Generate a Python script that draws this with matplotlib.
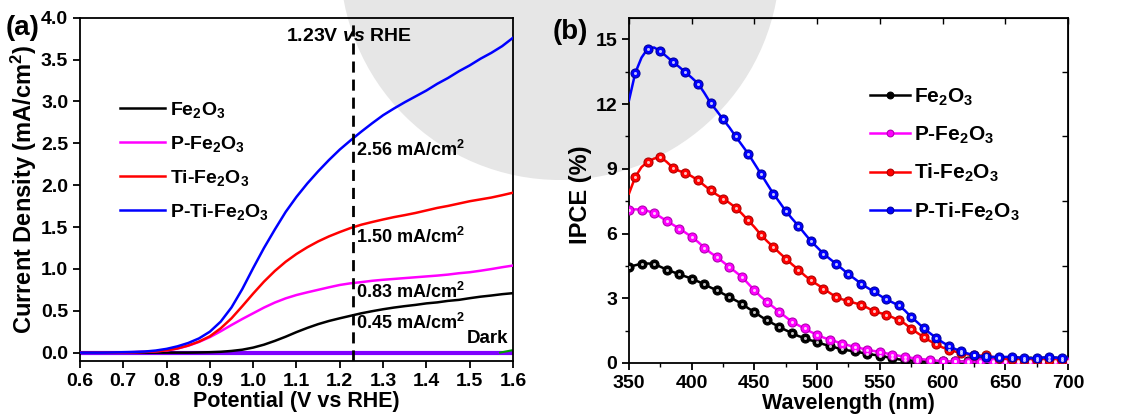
import numpy as np
import matplotlib
matplotlib.use('Agg')
import matplotlib.pyplot as plt
from matplotlib.patches import Circle

plt.rcParams['font.family'] = ['Liberation Sans', 'DejaVu Sans']
plt.rcParams['font.weight'] = 'bold'
plt.rcParams['axes.labelweight'] = 'bold'
plt.rcParams['xtick.labelsize'] = 14
plt.rcParams['ytick.labelsize'] = 14
plt.rcParams['mathtext.fontset'] = 'custom'
plt.rcParams['mathtext.rm'] = 'Liberation Sans:bold'
plt.rcParams['mathtext.bf'] = 'Liberation Sans:bold'
plt.rcParams['mathtext.it'] = 'Liberation Sans:bold:italic'
plt.rcParams['mathtext.default'] = 'bf'

# ---- LSV curves (a) ----
potential = [0.600, 0.625, 0.650, 0.675, 0.700, 0.725, 0.750, 0.775, 0.800, 0.825,
             0.850, 0.875, 0.900, 0.925, 0.950, 0.975, 1.000, 1.025, 1.050, 1.075,
             1.100, 1.125, 1.150, 1.175, 1.200, 1.225, 1.250, 1.275, 1.300, 1.325,
             1.350, 1.375, 1.400, 1.425, 1.450, 1.475, 1.500, 1.525, 1.550, 1.575, 1.600]
j_fe2o3 = [0.000, 0.000, 0.000, 0.000, 0.000, 0.000, 0.000, 0.000, 0.000, 0.000,
           0.000, 0.002, 0.005, 0.010, 0.020, 0.035, 0.060, 0.095, 0.140, 0.190,
           0.245, 0.295, 0.340, 0.378, 0.410, 0.440, 0.470, 0.495, 0.518, 0.538,
           0.555, 0.570, 0.588, 0.600, 0.618, 0.630, 0.650, 0.668, 0.682, 0.698, 0.710]
j_p_fe2o3 = [0.000, 0.000, 0.000, 0.000, 0.003, 0.006, 0.010, 0.016, 0.025, 0.048,
             0.082, 0.128, 0.185, 0.255, 0.330, 0.402, 0.470, 0.538, 0.598, 0.648,
             0.688, 0.720, 0.750, 0.780, 0.808, 0.828, 0.842, 0.858, 0.870, 0.880,
             0.890, 0.900, 0.910, 0.920, 0.932, 0.948, 0.960, 0.978, 0.998, 1.020, 1.040]
j_ti_fe2o3 = [0.000, 0.000, 0.000, 0.000, 0.003, 0.005, 0.008, 0.015, 0.028, 0.050,
              0.085, 0.132, 0.195, 0.290, 0.410, 0.555, 0.705, 0.848, 0.975, 1.085,
              1.178, 1.258, 1.328, 1.388, 1.440, 1.488, 1.528, 1.560, 1.590, 1.618,
              1.642, 1.668, 1.698, 1.728, 1.752, 1.780, 1.808, 1.830, 1.852, 1.880, 1.910]
j_p_ti_fe2o3 = [0.000, 0.000, 0.000, 0.002, 0.005, 0.008, 0.013, 0.025, 0.045, 0.075,
                0.115, 0.170, 0.250, 0.370, 0.540, 0.760, 1.010, 1.250, 1.470, 1.680,
                1.860, 2.020, 2.165, 2.300, 2.425, 2.535, 2.640, 2.740, 2.835, 2.915,
                2.990, 3.060, 3.130, 3.210, 3.280, 3.360, 3.430, 3.510, 3.580, 3.660, 3.760]
dark_v = [0.60, 1.60]
dark_j = [0.0, 0.0]
dark_tail_v = [1.57, 1.60]
dark_tail_j = [0.0, 0.03]

v_ref = 1.23
j_at_ref = ['0.45', '0.83', '1.50', '2.56']

x1_ticks = [0.6, 0.7, 0.8, 0.9, 1.0, 1.1, 1.2, 1.3, 1.4, 1.5, 1.6]
y1_ticks = [0.0, 0.5, 1.0, 1.5, 2.0, 2.5, 3.0, 3.5, 4.0]

# ---- IPCE spectra (b) ----
wavelength = np.arange(350, 705, 5)
ipce_fe2o3 = [4.45, 4.53, 4.60, 4.61, 4.60, 4.46, 4.33, 4.22, 4.11, 4.01,
              3.91, 3.78, 3.65, 3.50, 3.37, 3.21, 3.06, 2.90, 2.75, 2.54,
              2.36, 2.16, 1.98, 1.82, 1.67, 1.52, 1.39, 1.25, 1.16, 1.05,
              0.97, 0.87, 0.79, 0.71, 0.63, 0.58, 0.54, 0.48, 0.43, 0.38,
              0.34, 0.28, 0.22, 0.17, 0.13, 0.11, 0.10, 0.09, 0.08, 0.08,
              0.07, 0.07, 0.07, 0.07, 0.07, 0.07, 0.07, 0.07, 0.07, 0.07,
              0.07, 0.07, 0.07, 0.07, 0.07, 0.07, 0.07, 0.07, 0.07, 0.07, 0.07]
ipce_p_fe2o3 = [7.08, 7.12, 7.11, 7.04, 6.95, 6.77, 6.58, 6.41, 6.23, 6.04,
                5.84, 5.61, 5.35, 5.11, 4.91, 4.68, 4.45, 4.22, 3.99, 3.68,
                3.37, 3.08, 2.84, 2.60, 2.37, 2.13, 1.91, 1.75, 1.60, 1.44,
                1.31, 1.18, 1.08, 0.99, 0.90, 0.82, 0.74, 0.68, 0.62, 0.56,
                0.51, 0.45, 0.39, 0.34, 0.28, 0.24, 0.20, 0.17, 0.14, 0.11,
                0.09, 0.08, 0.08, 0.07, 0.06, 0.06, 0.06, 0.05, 0.05, 0.05,
                0.05, 0.05, 0.05, 0.05, 0.05, 0.05, 0.05, 0.05, 0.05, 0.05, 0.05]
ipce_ti_fe2o3 = [7.85, 8.62, 9.08, 9.32, 9.47, 9.55, 9.32, 9.05, 8.90, 8.81,
                 8.65, 8.47, 8.23, 8.00, 7.80, 7.62, 7.42, 7.20, 6.92, 6.61,
                 6.30, 5.95, 5.65, 5.38, 5.10, 4.84, 4.57, 4.33, 4.06, 3.83,
                 3.64, 3.45, 3.25, 3.06, 2.95, 2.86, 2.78, 2.70, 2.56, 2.41,
                 2.32, 2.24, 2.12, 1.98, 1.82, 1.59, 1.39, 1.20, 1.02, 0.87,
                 0.72, 0.62, 0.53, 0.46, 0.40, 0.35, 0.34, 0.36, 0.28, 0.22,
                 0.19, 0.17, 0.16, 0.15, 0.14, 0.13, 0.13, 0.12, 0.12, 0.12, 0.12]
ipce_p_ti_fe2o3 = [12.17, 13.44, 14.15, 14.57, 14.62, 14.45, 14.20, 13.95, 13.72, 13.47,
                   13.22, 12.95, 12.52, 12.05, 11.68, 11.29, 10.92, 10.50, 10.10, 9.70,
                   9.24, 8.78, 8.31, 7.85, 7.45, 7.04, 6.69, 6.36, 6.00, 5.65,
                   5.36, 5.07, 4.83, 4.60, 4.36, 4.11, 3.90, 3.68, 3.49, 3.32,
                   3.13, 2.95, 2.81, 2.67, 2.43, 2.13, 1.88, 1.61, 1.38, 1.16,
                   0.96, 0.79, 0.65, 0.54, 0.44, 0.37, 0.32, 0.29, 0.28, 0.29,
                   0.28, 0.29, 0.26, 0.22, 0.22, 0.23, 0.25, 0.26, 0.25, 0.25, 0.25]

x2_ticks = [350, 400, 450, 500, 550, 600, 650, 700]
y2_ticks = [0, 3, 6, 9, 12, 15]

labels = ['Fe$_2$O$_3$', 'P-Fe$_2$O$_3$', 'Ti-Fe$_2$O$_3$', 'P-Ti-Fe$_2$O$_3$']
colors = ['#000000', '#ff00ff', '#ff0000', '#0000ff']
edge_colors = ['#000000', '#b000b0', '#b00000', '#0000a0']


def style_axes(ax, xt, yt, fmt):
	ax.set_xticks(xt, labels=[fmt % v for v in xt])
	ax.set_yticks(yt, labels=[fmt % v for v in yt])
	for s in ax.spines.values():
		s.set_linewidth(1.3)
	ax.tick_params(which='major', direction='out', length=5, width=1.3)
	ax.tick_params(which='minor', direction='out', length=3, width=1.0)


fig = plt.figure(figsize=(11.23, 4.17), dpi=100)

# faint watermark disk behind both panels
bg = fig.add_axes([0, 0, 1, 1], zorder=-5)
bg.set_xlim(0, 1123)
bg.set_ylim(417, 0)
bg.axis('off')
bg.add_patch(Circle((560, -40), 220, color='#e6e6e6', lw=0))

# (a) current density vs potential
ax1 = fig.add_axes([0.0712, 0.1343, 0.3856, 0.8233])
ax1.set_facecolor('none')
ax1.plot(dark_v, dark_j, color='#7f00ff', lw=3.0, zorder=2)
ax1.plot(dark_tail_v, dark_tail_j, color='#00a000', lw=1.5, zorder=2)
for j, lab, c in zip([j_fe2o3, j_p_fe2o3, j_ti_fe2o3, j_p_ti_fe2o3], labels, colors):
	ax1.plot(potential, j, color=c, lw=1.8, label=lab, zorder=3)
ax1.axvline(v_ref, color='black', lw=2.0, dashes=(4, 2.5), zorder=4)
style_axes(ax1, x1_ticks, y1_ticks, '%.1f')
ax1.set_xlim(0.6, 1.6)
ax1.set_ylim(-0.1, 4.0)
ax1.set_xlabel('Potential (V vs RHE)', fontsize=15.5, labelpad=1)
ax1.set_ylabel('Current Density (mA/cm$^2$)', fontsize=17)
ax1.yaxis.set_label_coords(-0.095, 0.5)
ax1.text(1.22, 3.77, r'1.23V $\mathit{vs}$ RHE', fontsize=14, ha='center', va='center')
for val, y in zip(j_at_ref, [0.36, 0.72, 1.38, 2.42]):
	ax1.text(1.237, y, val + ' mA/cm$^2$', fontsize=13, ha='left', va='center')
ax1.text(1.588, 0.17, 'Dark', fontsize=13.5, ha='right', va='center')
ax1.legend(loc='upper left', bbox_to_anchor=(0.092, 0.76), frameon=False, fontsize=14,
           handlelength=2.3, handletextpad=0.3, labelspacing=0.72, borderpad=0, borderaxespad=0)

# (b) IPCE spectra
ax2 = fig.add_axes([0.5601, 0.1295, 0.3909, 0.8281])
ax2.set_facecolor('none')
series = [ipce_fe2o3, ipce_p_fe2o3, ipce_ti_fe2o3, ipce_p_ti_fe2o3]
offsets = [0, 0, 1, 1]
for y, lab, c, ec, off in zip(series, labels, colors, edge_colors, offsets):
	ax2.plot(wavelength, y, color=c, lw=1.8, marker='o', markersize=6.5, markevery=(off, 2),
	         markerfacecolor=c, markeredgecolor=ec, markeredgewidth=0.8, label=lab, zorder=3)
	ax2.plot(wavelength, y, ls='none', marker='o', markersize=2.2, markevery=(off, 2),
	         markerfacecolor='white', markeredgewidth=0, alpha=0.75, zorder=4)
style_axes(ax2, x2_ticks, y2_ticks, '%d')
ax2.set_xlim(350, 700)
ax2.set_ylim(0, 16)
ax2.set_xticks(np.arange(375, 700, 50), minor=True)
ax2.set_yticks(np.arange(1.5, 16, 3), minor=True)
top = ax2.secondary_xaxis('top')
top.set_xticks(x2_ticks)
top.tick_params(direction='in', length=4, width=1.0, labeltop=False)
right = ax2.secondary_yaxis('right')
right.set_yticks(np.arange(1.5, 16, 3))
right.tick_params(direction='in', length=4, width=1.0, labelright=False)
ax2.set_xlabel('Wavelength (nm)', fontsize=15.5, labelpad=1)
ax2.set_ylabel('IPCE (%)', fontsize=17)
ax2.yaxis.set_label_coords(-0.085, 0.487)
ax2.legend(loc='upper left', bbox_to_anchor=(0.549, 0.80), frameon=False, fontsize=15,
           handlelength=1.9, handletextpad=0.2, labelspacing=0.78, borderpad=0, borderaxespad=0,
           markerscale=0.75)

fig.text(0.005, 0.965, '(a)', fontsize=20, va='top', ha='left')
fig.text(0.492, 0.955, '(b)', fontsize=20, va='top', ha='left')

plt.savefig('out.png', dpi=100)
